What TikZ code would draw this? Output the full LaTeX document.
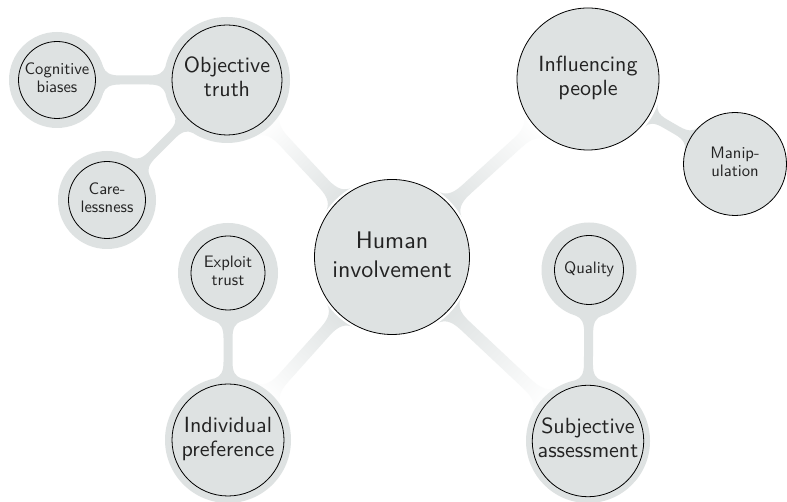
\documentclass[tikz,border=0pt]{standalone}
\usepackage{graphicx}
\usetikzlibrary{calc}

\definecolor{mapgray}{RGB}{222,226,226}
\definecolor{maptext}{RGB}{35,35,35}

\pgfdeclarelayer{bars}
\pgfdeclarelayer{rings}
\pgfsetlayers{bars,rings,main}

% scaled, centred multi-line label: [line stretch]{scale}{lines}
\newcommand\maptext[3][0.9]{\scalebox{#2}{\renewcommand\arraystretch{#1}\begin{tabular}{@{}c@{}}#3\end{tabular}}}

% flared connection bar between two circles
% #1 from node, #2 to node, #3 outer radius at #1, #4 outer radius at #2,
% #5 half width of the neck, #6 half width where it meets a circle,
% #7 flare length, #8 fill options
\newcommand\linkbar[8]{%
  \path let \p1=(#1.center), \p2=(#2.center) in
    \pgfextra{%
      \pgfmathsetmacro\lbang{atan2(\y2-\y1,\x2-\x1)}%
      \pgfmathsetmacro\lblen{veclen(\x2-\x1,\y2-\y1)}%
      \xdef\lbang{\lbang}\xdef\lblen{\lblen}};
  \begin{scope}[transform canvas={shift={(#1.center)},rotate=\lbang}]
    \pgfmathsetmacro\lbxa{sqrt(#3*#3-#6*#6)}
    \pgfmathsetmacro\lbxb{\lblen-sqrt(#4*#4-#6*#6)}
    \pgfmathsetmacro\lbna{#3+#7}
    \pgfmathsetmacro\lbnb{\lblen-#4-#7}
    \pgfmathsetmacro\lbca{#3+0.3*#7}
    \pgfmathsetmacro\lbcb{\lblen-#4-0.3*#7}
    \pgfmathsetmacro\lbda{\lbxa+0.15*#7}
    \pgfmathsetmacro\lbdb{\lbxb-0.15*#7}
    \pgfmathsetmacro\lbmy{#5+0.35*(#6-#5)}
    \path[#8]
      ({\lbxa-4},#6) -- (\lbxa,#6)
      .. controls (\lbda,\lbmy) and (\lbca,#5) .. (\lbna,#5)
      -- (\lbnb,#5)
      .. controls (\lbcb,#5) and (\lbdb,\lbmy) .. (\lbxb,#6)
      -- ({\lbxb+4},#6) -- ({\lbxb+4},-#6) -- (\lbxb,-#6)
      .. controls (\lbdb,-\lbmy) and (\lbcb,-#5) .. (\lbnb,-#5)
      -- (\lbna,-#5)
      .. controls (\lbca,-#5) and (\lbda,-\lbmy) .. (\lbxa,-#6)
      -- ({\lbxa-4},-#6) -- cycle;
  \end{scope}}

\begin{document}
\begin{tikzpicture}[x=1pt,y=1pt,
  concept/.style={circle, draw=black, line width=0.8pt, fill=mapgray,
    inner sep=0pt, text=maptext, font=\sffamily},
  fadebar/.style={left color=mapgray, right color=white},
  solidbar/.style={fill=mapgray}]

\useasboundingbox (0,0) rectangle (787,502);

% concepts
\node[concept, minimum size=155pt] (hum)   at (392,245) {\maptext[1]{2.4}{Human\\involvement}};
\node[concept, minimum size=110pt] (obj)   at (227,422) {\maptext[0.91]{2.2}{Objective\\truth}};
\node[concept, minimum size=77pt]  (cog)   at (57,422)  {\maptext{1.66}{Cognitive\\biases}};
\node[concept, minimum size=77pt]  (care)  at (107,302) {\maptext{1.66}{Care-\\lessness}};
\node[concept, minimum size=142pt] (infl)  at (588,423) {\maptext[0.91]{2.2}{Influencing\\people}};
\node[concept, minimum size=103pt] (manip) at (735,338) {\maptext{1.66}{Manip-\\ulation}};
\node[concept, minimum size=74pt]  (trust) at (228,229) {\maptext{1.66}{Exploit\\trust}};
\node[concept, minimum size=112pt] (pref)  at (228,62)  {\maptext[0.91]{2.2}{Individual\\preference}};
\node[concept, minimum size=69pt]  (qual)  at (589,232) {\maptext{1.66}{Quality}};
\node[concept, minimum size=110pt] (subj)  at (588,61)  {\maptext[0.91]{2.2}{Subjective\\assessment}};

% halos around the concepts
\begin{pgfonlayer}{rings}
  \fill[mapgray] (obj.center) circle (63) (cog.center) circle (48)
    (care.center) circle (49) (trust.center) circle (50)
    (pref.center) circle (63) (qual.center) circle (47.5)
    (subj.center) circle (62);
  \draw[white, line width=2.8pt] (hum.center) circle (78.9)
    (infl.center) circle (72.8);
\end{pgfonlayer}

% white page and connection bars
\begin{pgfonlayer}{bars}
  \fill[white] (0,0) rectangle (787,502);
  \linkbar{hum}{obj}{80}{63}{6}{18}{20}{fadebar}
  \linkbar{hum}{infl}{80}{74}{6}{18}{20}{fadebar}
  \linkbar{hum}{pref}{80}{63}{6}{18}{20}{fadebar}
  \linkbar{hum}{subj}{80}{62}{6}{18}{20}{fadebar}
  \linkbar{obj}{cog}{63}{48}{4.5}{13}{15}{solidbar}
  \linkbar{obj}{care}{63}{49}{4.5}{13}{15}{solidbar}
  \linkbar{infl}{manip}{74}{52}{4.5}{13}{15}{solidbar}
  \linkbar{pref}{trust}{63}{50}{4.5}{13}{15}{solidbar}
  \linkbar{subj}{qual}{62}{47.5}{4.5}{13}{15}{solidbar}
\end{pgfonlayer}
\end{tikzpicture}
\end{document}
